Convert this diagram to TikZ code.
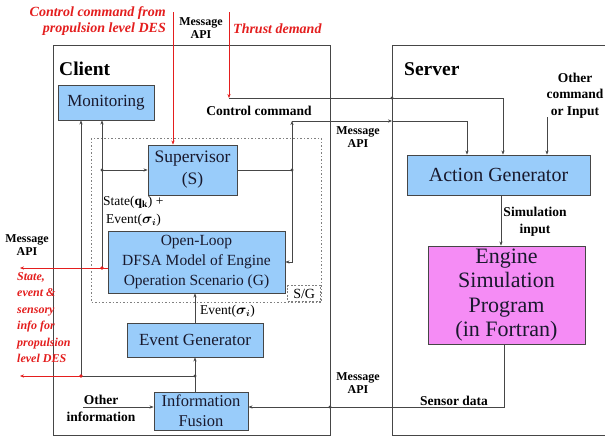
\documentclass[tikz,border=0pt]{standalone}
\usepackage{fontspec}
\setmainfont{Liberation Serif}
\usetikzlibrary{arrows.meta}
\definecolor{boxblue}{RGB}{153,204,250}
\definecolor{boxpink}{RGB}{245,140,245}
\definecolor{lnc}{RGB}{70,70,70}
\definecolor{redc}{RGB}{228,30,30}
\definecolor{txtc}{RGB}{25,25,45}
\begin{document}
\begin{tikzpicture}[x=1pt,y=-1pt,
  bluebox/.style={draw=lnc, line width=0.9pt, fill=boxblue, text=txtc, inner sep=0pt, align=center, font=\fontsize{17}{20}\selectfont},
  pinkbox/.style={draw=lnc, line width=0.9pt, fill=boxpink, text=txtc, inner sep=0pt, align=center, font=\fontsize{22}{24.5}\selectfont},
  ln/.style={draw=lnc, line width=0.8pt},
  arr/.style={ln, -{Stealth[length=4pt,width=3.2pt]}},
  rln/.style={draw=redc, line width=0.8pt},
  rarr/.style={rln, -{Stealth[length=4pt,width=3.2pt]}},
  lbl/.style={font=\fontsize{13.5}{16.5}\selectfont\bfseries, align=center, inner sep=0pt},
  apilbl/.style={font=\fontsize{12}{13}\selectfont\bfseries, align=center, inner sep=0pt},
  plbl/.style={font=\fontsize{13.5}{18}\selectfont, inner sep=0pt, anchor=west},
  redlbl/.style={font=\fontsize{12}{16.5}\selectfont\bfseries\itshape, text=redc, inner sep=0pt},
  title/.style={font=\fontsize{19.5}{22}\selectfont\bfseries, inner sep=0pt, anchor=west},
  jdot/.style={fill=lnc},
  rdot/.style={fill=redc}
]
\useasboundingbox (0,0) rectangle (605,437);
\fill[white] (0,0) rectangle (605,437);

% frames
\draw[ln] (53,45) rectangle (330,435);
\draw[ln] (605,45) -- (392,45) -- (392,435) -- (605,435);
\node[title] (client) at (59,69) {Client};
\node[title] (server) at (404,69) {Server};

% S/G dotted region
\draw[draw=gray, line width=0.8pt, dash pattern=on 1.5pt off 2pt] (91,138) rectangle (321,302);
\node[draw=gray, line width=0.7pt, dash pattern=on 2pt off 1.5pt, anchor=south east, minimum width=33, minimum height=16, inner sep=0pt, font=\fontsize{14}{15}\selectfont] (sg) at (321,302) {S/G};

% boxes
\node[bluebox, minimum width=96, minimum height=35] (mon) at (106,102.5) {Monitoring};
\node[bluebox, minimum width=89, minimum height=50, font=\fontsize{17.5}{22}\selectfont] (sup) at (192.5,170) {Supervisor\\(S)};
\node[bluebox, minimum width=177, minimum height=62, font=\fontsize{15.5}{20}\selectfont] (ol) at (196.5,262) {Open-Loop\\DFSA Model of Engine\\Operation Scenario (G)};
\node[bluebox, minimum width=136, minimum height=34] (eg) at (195,340) {Event Generator};
\node[bluebox, minimum width=94, minimum height=38, font=\fontsize{16.5}{19.5}\selectfont] (if) at (201,411) {Information\\Fusion};
\node[bluebox, minimum width=183, minimum height=40, font=\fontsize{20}{22}\selectfont] (ag) at (498.5,175) {Action Generator};
\node[pinkbox, minimum width=157, minimum height=98] (es) at (506.5,295) {Engine\\Simulation\\Program\\(in Fortran)};

% coordinates
\coordinate (ctop) at (173,12);
\coordinate (ttop) at (229,12);
\coordinate (tc) at (229,98);
\coordinate (tdot) at (392,98);
\coordinate (sj) at (292,170);
\coordinate (cc) at (292,121);
\coordinate (mj) at (392,121);
\coordinate (sj2) at (102,170);
\coordinate (rj) at (102,268);
\coordinate (lout1) at (20,268);
\coordinate (ij) at (195,376);
\coordinate (rj2) at (81,376);
\coordinate (lout2) at (20,376);
\coordinate (sdx) at (504,407);
\coordinate (sdot) at (330,407);
\coordinate (oi) at (83,407);
\coordinate (oc) at (547,117);
\coordinate (si) at (501,200);

% red inputs
\draw[rarr] (ctop) -- (ctop |- sup.north);
\draw[rarr] (ttop) -- (tc);
\draw[arr] (tc) -| ([xshift=4.5pt]ag.north);

% supervisor outputs
\draw[ln] (sup.east) -- (sj);
\draw[arr] (sj) -- (cc);
\draw[arr] (cc) -- (mj);
\draw[arr] (mj) -| ([xshift=-31.5pt]ag.north);
\draw[arr] (sj) |- (ol.east);

% open-loop outputs
\draw[rln] (ol.west |- rj) -- (rj);
\draw[rarr] (rj) -- (lout1);
\draw[arr] (rj) -- (mon.south -| rj);
\draw[arr] (sj2) -- (sup.west);

% event generator / info fusion
\draw[arr] (eg.north) -- (ol.south -| eg.north);
\draw[arr] (if.north -| ij) -- (eg.south -| ij);
\draw[ln] (ij) -- (rj2);
\draw[arr] (rj2) -- (mon.south -| rj2);
\draw[rarr] (rj2) -- (lout2);
\draw[arr] (oi) -- (if.west |- oi);

% server side
\draw[arr] (oc) -- (oc |- ag.north);
\draw[arr] (ag.south -| si) -- (es.north -| si);
\draw[arr] (es.south -| sdx) -- (sdx) -- (if.east |- sdx);

% junction dots
\fill[jdot] (tdot) circle (1.6);
\fill[jdot] (sj) circle (1.6);
\fill[jdot] (sj2) circle (1.6);
\fill[jdot] (ij) circle (1.6);
\fill[jdot] (sdot) circle (1.6);
\fill[rdot] (rj) circle (1.8);
\fill[rdot] (rj2) circle (1.8);

% labels
\node[redlbl, align=right, anchor=east, font=\fontsize{14}{16.5}\selectfont\bfseries\itshape] (ccl) at (166,21) {Control command from\\propulsion level DES};
\node[redlbl, anchor=west, font=\fontsize{14}{16}\selectfont\bfseries\itshape] (tdl) at (233,29) {Thrust demand};
\node[apilbl] (api1) at (201,28.5) {Message\\API};
\node[apilbl] (api2) at (358,137.5) {Message\\API};
\node[apilbl] (api3) at (27,245) {Message\\API};
\node[apilbl] (api4) at (358,383.5) {Message\\API};
\node[lbl] (ccmd) at (259,111) {Control command};
\node[plbl] (stl) at (103,202) {State(\textbf{q}$_{\mathbf{k}}$) +};
\node[plbl] (evl) at (106,220) {Event({\boldmath$\sigma_i$})};
\node[plbl] (evl2) at (200,311) {Event({\boldmath$\sigma_i$})};
\node[redlbl, align=left, anchor=north west] (rl) at (17,272) {State,\\event \&\\sensory\\info for\\propulsion\\level DES};
\node[lbl] (siml) at (535,221.5) {Simulation\\input};
\node[lbl] (sdl) at (454,401) {Sensor data};
\node[lbl] (oil) at (101,408.5) {Other\\information};
\node[lbl] (ocl) at (575,95.5) {Other\\command\\or Input};
\end{tikzpicture}
\end{document}
